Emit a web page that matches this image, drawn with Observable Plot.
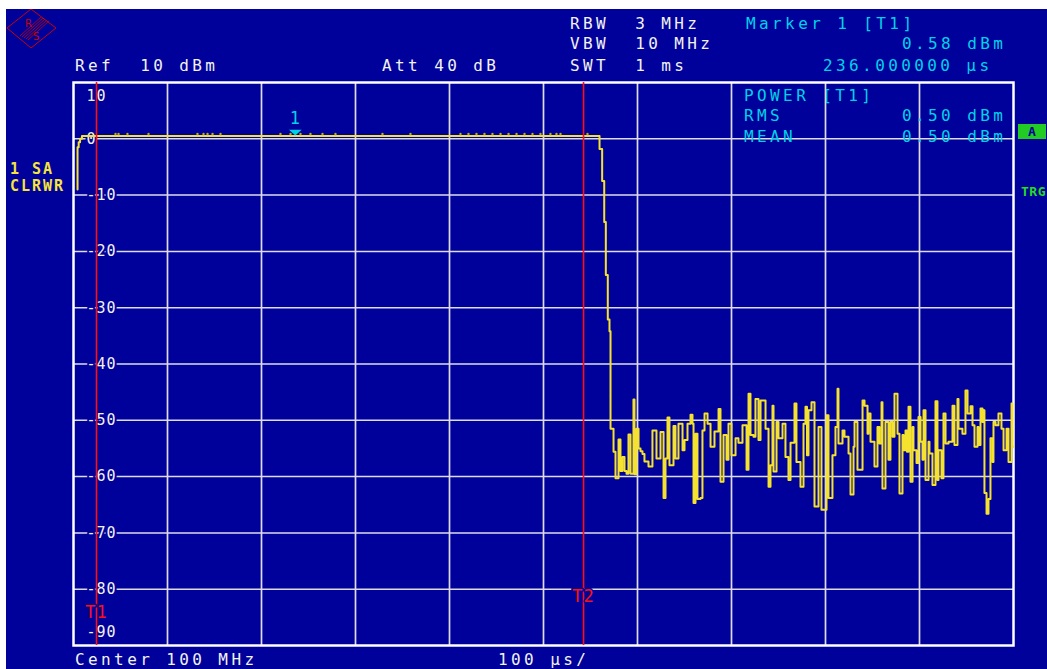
<!DOCTYPE html>
<html><head><meta charset="utf-8">
<script src="https://cdn.jsdelivr.net/npm/d3@7"></script>
<script src="https://cdn.jsdelivr.net/npm/@observablehq/plot@0.6"></script>
<style>
html,body{margin:0;padding:0;background:#fff;width:1047px;height:669px;overflow:hidden}
#wrap{position:relative;width:1047px;height:669px;background:#00009a;overflow:hidden}
#wrap svg{position:absolute;left:0;top:0}
#wrap svg text{letter-spacing:1px}
.t{position:absolute;font-family:"DejaVu Sans Mono",monospace;font-size:16px;line-height:16px;letter-spacing:3.4px;color:#f2f2f2;white-space:pre}
.c{color:#00d2e6}
.b{font-weight:bold;font-size:15px;letter-spacing:2px}
.yl{color:#f4e43c}
.g{color:#22dd22;font-size:13px;letter-spacing:0.5px}
.w{position:absolute;background:#fff}
</style>
</head><body>
<div id="wrap"></div>
<script>
// ---- data ----
const xTicks = [0,100,200,300,400,500,600,700,800,900,1000];       // µs
const yTicks = [10,0,-10,-20,-30,-40,-50,-60,-70,-80,-90];           // dBm
const yTickLabels = ["10","0","-10","-20","-30","-40","-50","-60","-70","-80","-90"];
const traceTime = [4.3,4.3,5.5,7,9,557.4,559.6,562.4,564.6,566.3,568.4,570.2,571.3,
574.5,576.6,579.8,581.9,584.0,586.2,588.3,590.4,592.6,595.7,596.8,598.9,601.1,603.2,605.3,607.4,611.7,615.9,620.2,624.5,627.7,629.8,631.9,634.0,638.3,640.4,643.6,647.9,650.0,653.2,656.4,658.5,659.6,661.7,663.8,667.0,669.1,671.3,674.5,677.7,681.9,686.2,688.3,691.5,694.7,696.8,700.0,704.3,707.4,711.7,716.0,718.1,720.2,723.4,725.5,728.7,730.9,736.2,739.4,741.5,743.6,744.7,747.9,750.0,754.3,757.4,760.6,762.8,767.0,769.1,773.4,776.6,778.7,780.3,781.9,785.1,788.3,792.6,795.7,801.1,803.2,807.4,810.6,812.8,813.8,818.1,820.2,824.5,826.6,829.8,830.9,834.0,839.4,841.5,844.7,845.7,847.9,852.1,855.3,857.4,859.6,860.6,863.8,867.0,869.1,871.3,873.4,876.6,878.7,881.9,883.0,885.1,886.7,888.3,890.4,892.6,893.6,896.8,898.9,901.1,903.2,904.3,906.4,909.6,910.6,913.8,917.0,919.1,920.2,923.4,925.5,927.7,930.9,935.1,937.2,940.4,941.5,945.7,948.9,951.1,954.3,956.4,958.5,961.7,962.8,964.9,967.0,968.1,969.1,971.3,973.4,975.5,977.7,978.7,980.9,984.0,987.2,989.4,992.6,994.7,997.9,998.9,1000];
const traceLevel = [-9,-1.5,-0.6,0,0.5,0.5,-1.8,-7.5,-14.8,-24.2,-32.1,-34.2,-51.5,
-55.6,-60.3,-53.4,-59,-56.5,-59,-59.5,-52.5,-59.5,-46.3,-59.6,-51.5,-55,-55.5,-56,-57.3,-58.2,-51.8,-56.8,-52.1,-63.8,-56.8,-49.5,-58,-51,-56.8,-50.6,-55.3,-53.5,-50.6,-49,-50.6,-64.7,-52.4,-64,-63.8,-51.8,-48.8,-50.6,-54.7,-52,-48,-60.9,-52.6,-57,-50.6,-56.2,-53.2,-54,-50.9,-58.8,-45.3,-52.6,-52.9,-46.2,-53.5,-46.5,-51.5,-61.8,-58,-47.4,-59.1,-50.3,-53.2,-50.6,-56.5,-60.6,-54,-47,-57.4,-61.8,-50.6,-47.6,-56.2,-48.2,-46.8,-65.3,-51.2,-65.9,-49.1,-63.8,-56.2,-51.2,-44.4,-54.1,-51.8,-52.9,-55.9,-63.2,-54.7,-50.3,-58.8,-46.5,-47.4,-52.4,-48.8,-53.8,-58.2,-51.2,-54.1,-46.8,-62.1,-50.3,-57,-50.3,-52.9,-45.3,-52.4,-63,-52.6,-55.3,-51.8,-55.6,-47.6,-60.9,-51.2,-55.3,-57.6,-49.4,-53.8,-57,-48.2,-60.6,-53.8,-55.9,-61.5,-46.6,-60.6,-55.3,-60.3,-48.8,-54.1,-53.8,-47.4,-54.4,-46.2,-51.5,-52.4,-44.7,-48.8,-47.5,-50.9,-54.7,-51.2,-54.4,-47.9,-50.3,-48.2,-62.9,-66.6,-64,-53.2,-57.4,-50.3,-50.9,-48.8,-51.5,-55.3,-51.5,-57.4,-47,-54.7,-54.7];
const flatDotTime = [44.7,47.9,57.4,79.8,131.9,138.3,142.6,147.9,156.4,220.2,230.9,241.5,252.1,264.9,278.7,328.7,358.5,411.7,420.2,428.7,437.2,445.7,454.3,462.8,471.3,479.8,488.3,496.8,507.4,513.8,518.1,546.8];
const flatLevel = 0.5;
const markerTime = [236];
const markerLevel = [0.58];
const markerNames = ["1"];
const lineTime = [24.5, 542.6];
const lineNames = ["T1","T2"];

// ---- colours ----
const BG = "#00009a", GRID = "#dcdcec", YEL = "#f4e22e", CYAN = "#00d2e6", RED = "#ff1010";
const FONT = "DejaVu Sans Mono";

const trace = traceTime.map((t,i)=>({t, v: traceLevel[i]}));
const marker = markerTime.map((t,i)=>({t, v: markerLevel[i], name: markerNames[i]}));
const tl = yTicks.map((v,i)=>({v, s: yTickLabels[i]}));

const downTri = { draw(ctx, size) { const w = Math.sqrt(size)*1.6, h = w*0.45; ctx.moveTo(-w/2,-h/2); ctx.lineTo(w/2,-h/2); ctx.lineTo(0,h/2); ctx.closePath(); } };

const labelOpts = {y:"v", text:"s", frameAnchor:"left", dx:13, textAnchor:"start", fill:"#f2f2f2", stroke:BG, strokeWidth:4, fontFamily:FONT, fontSize:15};

const chart = Plot.plot({
  width: 1047, height: 669,
  marginLeft: 73, marginRight: 34, marginTop: 82, marginBottom: 24,
  x: {domain:[0,1000], axis:null},
  y: {domain:[-90,10], axis:null},
  style: {background:"transparent", overflow:"visible"},
  marks: [
    Plot.ruleX(xTicks.slice(1,-1), {stroke:GRID, strokeWidth:1.7}),
    Plot.ruleY(yTicks.slice(1,-1), {stroke:GRID, strokeWidth:1.5}),
    Plot.frame({stroke:"#ffffff", strokeWidth:2.5}),
    Plot.text(tl.slice(0,1), {...labelOpts, dy:14}),
    Plot.text(tl.slice(1,-1), labelOpts),
    Plot.text(tl.slice(-1), {...labelOpts, dy:-13}),
    Plot.line(trace, {x:"t", y:"v", curve:"step-after", stroke:YEL, strokeWidth:2}),
    Plot.dot(flatDotTime, {x:d=>d, y:()=>flatLevel, r:1.2, fill:"#b8a838", dy:-2}),
    Plot.ruleX(lineTime, {stroke:RED, strokeWidth:1.6}),
    Plot.text(lineNames.slice(0,1), {x:(d,i)=>lineTime[0], text:d=>d, frameAnchor:"bottom", dy:-28, fill:RED, stroke:BG, strokeWidth:3, fontFamily:FONT, fontSize:17}),
    Plot.text(lineNames.slice(1), {x:(d,i)=>lineTime[1], text:d=>d, frameAnchor:"bottom", dy:-44, fill:RED, stroke:BG, strokeWidth:3, fontFamily:FONT, fontSize:17}),
    Plot.dot(marker, {x:"t", y:"v", symbol:downTri, r:4.5, fill:CYAN, stroke:null, dy:-3}),
    Plot.text(marker, {x:"t", y:"v", text:"name", dy:-17, fill:CYAN, fontFamily:FONT, fontSize:17})
  ]
});
const wrap = document.getElementById("wrap");
wrap.appendChild(chart);

const texts = [
  ["Ref  10 dBm", 75, 58, ""],
  ["Att 40 dB", 382, 58, ""],
  ["RBW  3 MHz", 570, 16, ""],
  ["VBW  10 MHz", 570, 36, ""],
  ["SWT  1 ms", 570, 58, ""],
  ["Marker 1 [T1]", 746, 16, "c"],
  ["0.58 dBm", 902, 36, "c"],
  ["236.000000 µs", 823, 58, "c"],
  ["POWER [T1]", 744, 88, "c"],
  ["RMS", 744, 108, "c"],
  ["0.50 dBm", 902, 108, "c"],
  ["MEAN", 744, 129, "c"],
  ["0.50 dBm", 902, 129, "c"],
  ["1 SA", 10, 161, "b yl"],
  ["CLRWR", 10, 178, "b yl"],
  ["TRG", 1021, 184, "b g"],
  ["Center 100 MHz", 75, 652, ""],
  ["100 µs/", 498, 652, ""]
];
for (const [s,x,y,c] of texts) {
  const d = document.createElement("div");
  d.className = "t " + c; d.textContent = s;
  d.style.left = x+"px"; d.style.top = y+"px";
  wrap.appendChild(d);
}
// green "A" box
const a = document.createElement("div");
a.style.cssText = "position:absolute;left:1018px;top:124px;width:28px;height:15px;background:#22cc22;color:#00009a;font:bold 13px 'DejaVu Sans Mono';text-align:center;line-height:15px";
a.textContent = "A"; wrap.appendChild(a);
// R&S logo
const logo = document.createElementNS("http://www.w3.org/2000/svg","svg");
logo.setAttribute("width","60"); logo.setAttribute("height","52");
logo.style.cssText = "position:absolute;left:0;top:0";
logo.innerHTML = `<polygon points="7,28 31,9 56,28 31,48" fill="none" stroke="#cc0000" stroke-width="1"/>
<g stroke="#cc0000" stroke-width="0.8">
<line x1="20" y1="36" x2="41" y2="17"/><line x1="22" y1="37" x2="43" y2="18"/><line x1="24" y1="38" x2="45" y2="19"/>
<line x1="26" y1="39" x2="47" y2="20"/><line x1="28" y1="40" x2="49" y2="21"/></g>
<text x="25" y="27" fill="#cc0000" font-family="DejaVu Sans" font-size="10">R</text>
<text x="33" y="40" fill="#cc0000" font-family="DejaVu Sans" font-size="10">S</text>`;
wrap.appendChild(logo);
// white margins of the screenshot
for (const [l,t,w,h] of [[0,0,1047,9],[0,0,6,669]]) {
  const d = document.createElement("div"); d.className="w";
  d.style.cssText += `;left:${l}px;top:${t}px;width:${w}px;height:${h}px`;
  wrap.appendChild(d);
}
</script>
</body></html>
